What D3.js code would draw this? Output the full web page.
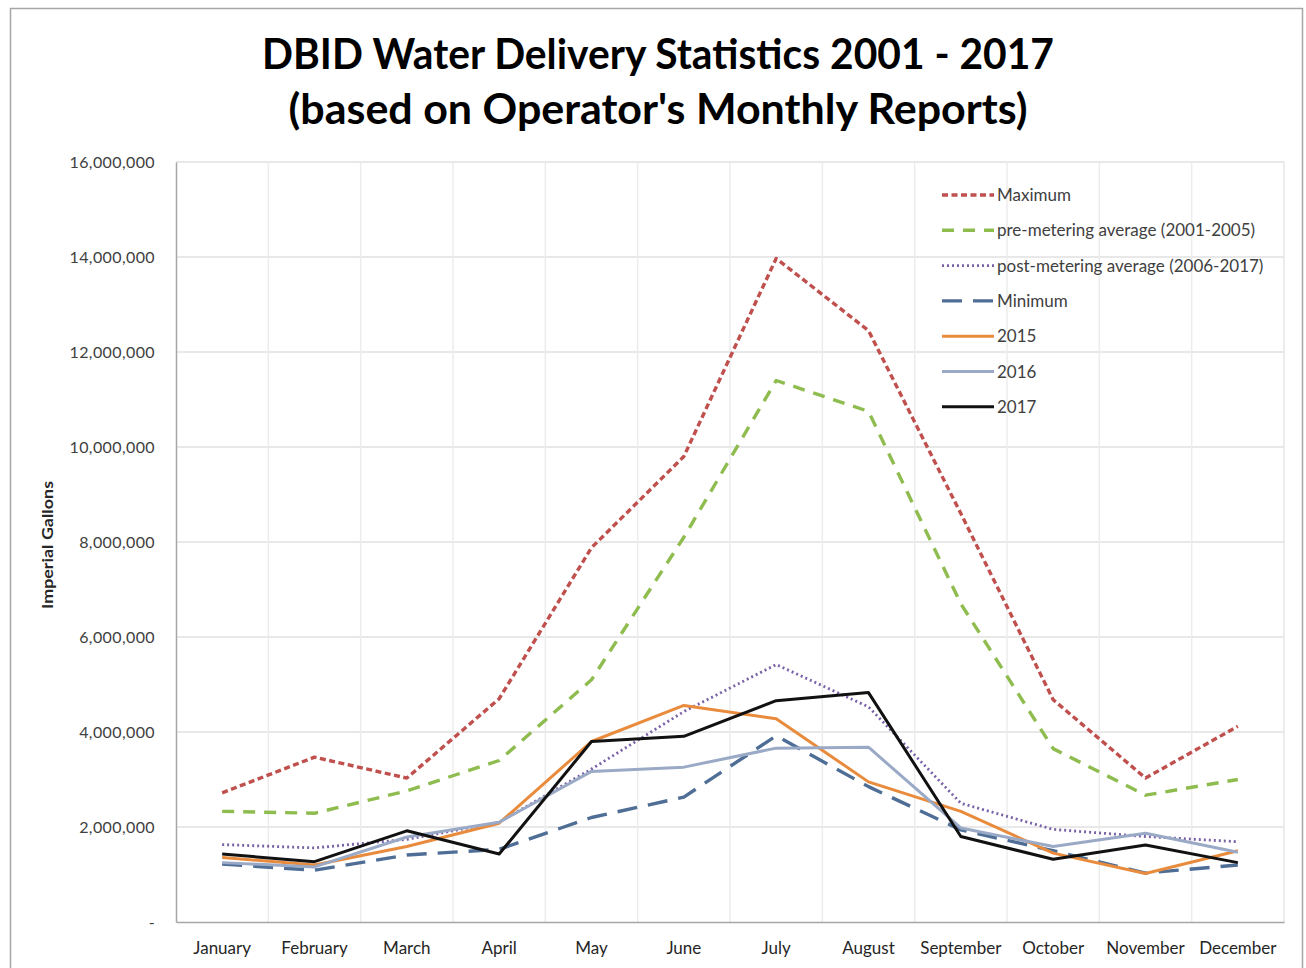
<!DOCTYPE html>
<html>
<head>
<meta charset="utf-8">
<script src="https://cdn.jsdelivr.net/npm/d3@7"></script>
<style>
  html, body { margin: 0; padding: 0; background: #fff; }
  svg { display: block; font-family: Lato, "Open Sans", sans-serif; }
</style>
</head>
<body>
<svg id="chart" width="1306" height="968"></svg>
<script>
const months = ["January", "February", "March", "April", "May", "June",
                "July", "August", "September", "October", "November", "December"];

const maximum  = [2720000, 3470000, 3030000, 4700000, 7880000, 9800000, 13970000, 12450000, 8600000, 4680000, 3030000, 4120000];
const preAvg   = [2330000, 2290000, 2760000, 3400000, 5100000, 8100000, 11400000, 10750000, 6700000, 3650000, 2670000, 3000000];
const postAvg  = [1630000, 1560000, 1740000, 2100000, 3220000, 4430000, 5420000, 4530000, 2500000, 1950000, 1800000, 1690000];
const minimum  = [1220000, 1090000, 1410000, 1530000, 2200000, 2630000, 3920000, 2850000, 1940000, 1500000, 1030000, 1200000];
const y2015    = [1360000, 1200000, 1590000, 2080000, 3800000, 4560000, 4280000, 2950000, 2330000, 1450000, 1020000, 1500000];
const y2016    = [1250000, 1160000, 1790000, 2100000, 3170000, 3260000, 3660000, 3680000, 1980000, 1590000, 1870000, 1470000];
const y2017    = [1430000, 1270000, 1920000, 1430000, 3800000, 3910000, 4660000, 4830000, 1800000, 1320000, 1620000, 1250000];

const yTicks = [0, 2000000, 4000000, 6000000, 8000000, 10000000, 12000000, 14000000, 16000000];

const seriesList = [
  { name: "Maximum", values: maximum, color: "#c0504d", width: 3.4, dash: "6,3.5" },
  { name: "pre-metering average (2001-2005)", values: preAvg, color: "#8fbc4f", width: 3.4, dash: "12,9" },
  { name: "post-metering average (2006-2017)", values: postAvg, color: "#7a62a8", width: 2.8, dash: "2,3" },
  { name: "Minimum", values: minimum, color: "#4f6e96", width: 3.4, dash: "20,11" },
  { name: "2015", values: y2015, color: "#e98b3c", width: 3, dash: null },
  { name: "2016", values: y2016, color: "#9aaac6", width: 3, dash: null },
  { name: "2017", values: y2017, color: "#111111", width: 3, dash: null }
];

const svg = d3.select("#chart");
const m = { left: 176, right: 1284, top: 162, bottom: 922 };

// outer frame
svg.append("rect").attr("x", 10.5).attr("y", 8.5).attr("width", 1292).attr("height", 980)
  .attr("fill", "none").attr("stroke", "#a6a6a6").attr("stroke-width", 1.5);

// title
const title = svg.append("g").attr("font-weight", 700).attr("fill", "#000").attr("text-anchor", "middle");
title.append("text").attr("x", 658).attr("y", 69).attr("font-size", 42)
  .attr("textLength", 792).attr("lengthAdjust", "spacingAndGlyphs")
  .text("DBID Water Delivery Statistics 2001 - 2017");
title.append("text").attr("x", 658).attr("y", 124).attr("font-size", 42)
  .attr("textLength", 739).attr("lengthAdjust", "spacingAndGlyphs")
  .text("(based on Operator's Monthly Reports)");

const x = d3.scaleBand().domain(months).range([m.left, m.right]);
const y = d3.scaleLinear().domain([0, 16000000]).range([m.bottom, m.top]);

// gridlines
const grid = svg.append("g");
grid.selectAll(".hg").data(yTicks.slice(1)).enter().append("line")
  .attr("x1", m.left).attr("x2", m.right)
  .attr("y1", d => y(d)).attr("y2", d => y(d))
  .attr("stroke", "#e0e0e0").attr("stroke-width", 1.5);
grid.selectAll(".vg").data(months.slice(1)).enter().append("line")
  .attr("x1", d => x(d)).attr("x2", d => x(d))
  .attr("y1", m.top).attr("y2", m.bottom)
  .attr("stroke", "#ececec").attr("stroke-width", 1.5);
grid.append("line").attr("x1", m.right).attr("x2", m.right).attr("y1", m.top).attr("y2", m.bottom)
  .attr("stroke", "#e6e6e6").attr("stroke-width", 1.5);

// axes
const yAxis = svg.append("g").attr("transform", `translate(${m.left},0)`)
  .call(d3.axisLeft(y).tickValues(yTicks).tickSize(0).tickPadding(21)
    .tickFormat(d => d === 0 ? "-" : d3.format(",")(d)));
yAxis.select(".domain").attr("stroke", "#a6a6a6").attr("stroke-width", 1.5);
yAxis.selectAll("text").attr("font-family", "Lato, sans-serif").attr("font-size", 16)
  .attr("letter-spacing", 0.4).attr("fill", "#404040");

const xAxis = svg.append("g").attr("transform", `translate(0,${m.bottom})`)
  .call(d3.axisBottom(x).tickSize(0).tickPadding(20));
xAxis.select(".domain").attr("stroke", "#a6a6a6").attr("stroke-width", 1.5);
xAxis.selectAll("text").attr("font-family", "Lato, sans-serif").attr("font-size", 17).attr("fill", "#262626");

svg.append("text").attr("transform", "translate(53,545) rotate(-90)")
  .attr("text-anchor", "middle").attr("font-size", 15).attr("font-weight", 700).attr("fill", "#262626")
  .attr("textLength", 128).attr("lengthAdjust", "spacingAndGlyphs")
  .text("Imperial Gallons");

// lines
const line = d3.line()
  .x((d, i) => x(months[i]) + x.bandwidth() / 2)
  .y(d => y(d));

svg.append("g").selectAll("path").data(seriesList).enter().append("path")
  .attr("d", d => line(d.values))
  .attr("fill", "none")
  .attr("stroke", d => d.color)
  .attr("stroke-width", d => d.width)
  .attr("stroke-dasharray", d => d.dash)
  .attr("stroke-linejoin", "round");

// legend
const legend = svg.append("g").attr("transform", "translate(942,195)");
seriesList.forEach((s, i) => {
  const ly = i * 35.3;
  legend.append("line").attr("x1", 0).attr("x2", 52).attr("y1", ly).attr("y2", ly)
    .attr("stroke", s.color).attr("stroke-width", s.width).attr("stroke-dasharray", s.dash);
  legend.append("text").attr("x", 55).attr("y", ly + 6)
    .attr("font-size", 17).attr("fill", "#404040").text(s.name);
});
</script>
</body>
</html>
